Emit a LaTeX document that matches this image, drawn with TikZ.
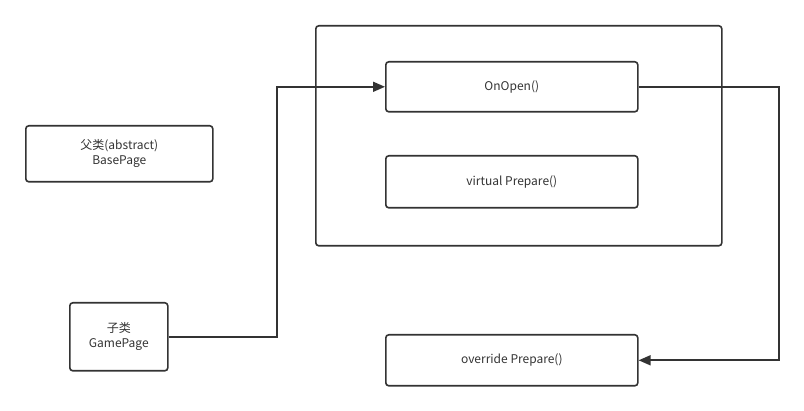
\documentclass[tikz,border=0pt]{standalone}
\usepackage{fontspec}
\setmainfont{Noto Sans CJK SC}
\usetikzlibrary{arrows.meta}
\definecolor{ln}{HTML}{333333}
\begin{document}
\begin{tikzpicture}[x=1pt,y=-1pt,
  box/.style={draw=ln,line width=1.6pt,rounded corners=3pt,inner sep=0pt,anchor=north west,align=center,text=ln,font=\fontsize{12}{15}\selectfont},
  conn/.style={draw=ln,line width=1.6pt,-{Triangle[length=12pt,width=10pt]}}]
\useasboundingbox (0,0) rectangle (804,411);
\node[box,minimum width=187pt,minimum height=56pt] (base) at (25,125) {父类(abstract)\\BasePage};
\node[box,minimum width=98pt,minimum height=68pt] (game) at (69,302) {子类\\GamePage};
\node[box,minimum width=406pt,minimum height=220pt] (outer) at (315,25) {};
\node[box,minimum width=252pt,minimum height=50pt] (onopen) at (385,61) {OnOpen()};
\node[box,minimum width=252pt,minimum height=52pt] (virt) at (385,155) {virtual Prepare()};
\node[box,minimum width=252pt,minimum height=51pt] (over) at (385,334) {override Prepare()};
\coordinate (c1) at (277,0);
\coordinate (c2) at (779,0);
\draw[conn] (game.east) -- (game.east -| c1) -- (onopen.west -| c1) -- (onopen.west);
\draw[conn] (onopen.east) -- (onopen.east -| c2) -- (over.east -| c2) -- (over.east);
\end{tikzpicture}
\end{document}
